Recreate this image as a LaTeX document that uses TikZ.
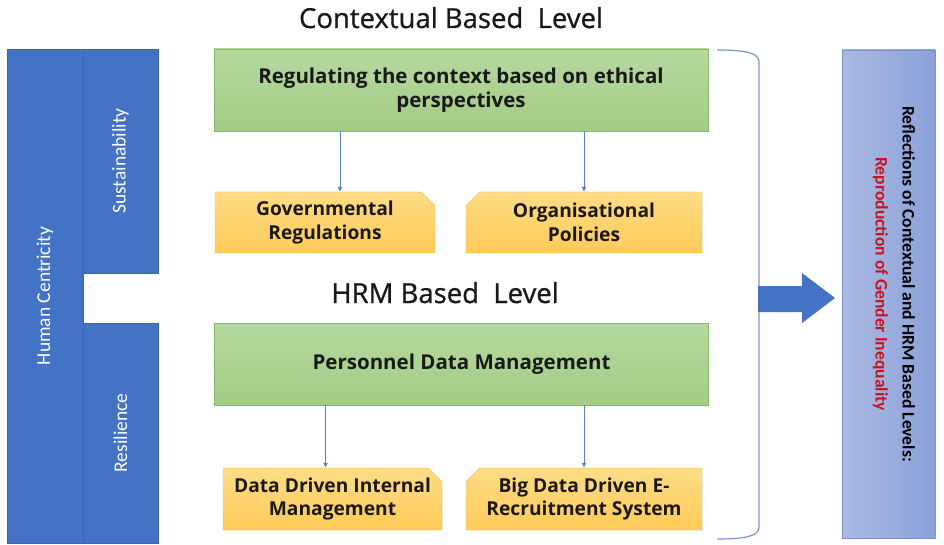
\documentclass[tikz,border=0pt]{standalone}
\usepackage{fontspec}
\setmainfont{Open Sans}
\newfontfamily\carlito{Carlito}
\newfontfamily\titlefont[FakeBold=0.9]{Open Sans}
\usetikzlibrary{arrows.meta,shapes.misc}

\definecolor{hcblue}{HTML}{4472C4}
\definecolor{hcedge}{HTML}{3A64AF}
\definecolor{lvgreen}{HTML}{B6D9A0}
\definecolor{lvgreendk}{HTML}{A3CC85}
\definecolor{lvedge}{HTML}{86B866}
\definecolor{subyel}{HTML}{FFDC86}
\definecolor{subyeldk}{HTML}{FFCB58}
\definecolor{subedge}{HTML}{E2B454}
\definecolor{refl}{HTML}{ABBAE2}
\definecolor{refldk}{HTML}{8BA1D9}
\definecolor{refledge}{HTML}{7D93CD}
\definecolor{linkblue}{HTML}{5B7FC7}
\definecolor{gendred}{HTML}{C8141E}

\tikzset{
  pillar/.style={draw=hcedge, fill=hcblue, text=white, rotate=90,
    inner sep=0pt, font=\carlito\fontsize{19.5}{22}\selectfont},
  levelbox/.style={draw=lvedge, top color=lvgreen, bottom color=lvgreendk,
    minimum width=494pt, minimum height=82pt, align=center,
    font=\bfseries\fontsize{20.5}{24}\selectfont, text=black!90},
  subbox/.style={chamfered rectangle, chamfered rectangle xsep=10pt,
    draw=subedge, top color=subyel, bottom color=subyeldk,
    minimum height=61pt, inner sep=0pt, align=center,
    font=\bfseries\fontsize{19.2}{23.5}\selectfont, text=black!90},
  leveltitle/.style={anchor=base, font=\titlefont\fontsize{27.5}{30}\selectfont, text=black!90},
  link/.style={draw=linkblue, line width=0.8pt, -{Latex[length=5pt,width=5pt]}}
}

\begin{document}
\begin{tikzpicture}[x=1pt,y=-1pt]
\useasboundingbox (0,0) rectangle (944,545);

\node[pillar, minimum width=494pt, minimum height=76pt] (hc) at (45,296) {Human Centricity};
\node[pillar, minimum width=224pt, minimum height=75pt] (sus) at (120.5,161) {Sustainability};
\node[pillar, minimum width=220pt, minimum height=75pt] (res) at (120.5,433) {Resilience};

\node[leveltitle] (ctxtitle) at (451,28) {Contextual Based \ Level};
\node[levelbox] (ctx) at (461,90) {Regulating the context based on ethical\\perspectives};
\node[subbox, chamfered rectangle corners=north east, minimum width=220pt] (gov) at (325,222.5) {Governmental\\Regulations};
\node[subbox, chamfered rectangle corners=north west, minimum width=236pt] (org) at (584,222.5) {Organisational\\Policies};
\draw[link] ([xshift=15pt]gov.north |- ctx.south) -- ([xshift=15pt]gov.north);
\draw[link] (org.north |- ctx.south) -- (org.north);

\node[leveltitle] (hrmtitle) at (445,303) {HRM Based \ Level};
\node[levelbox] (hrm) at (461.5,364) {Personnel Data Management};
\node[subbox, chamfered rectangle corners=north east, minimum width=219pt, minimum height=62pt] (ddim) at (332.5,499) {Data Driven Internal\\Management};
\node[subbox, chamfered rectangle corners=north west, minimum width=236pt, minimum height=62pt] (bdre) at (584,499) {Big Data Driven E-\\Recruitment System};
\draw[link] ([xshift=-7pt]ddim.north |- hrm.south) -- ([xshift=-7pt]ddim.north);
\draw[link] (bdre.north |- hrm.south) -- (bdre.north);

\draw[refledge, line width=1.2pt]
  (717,50) .. controls (746,50) and (759,53) .. (759,62) -- (759,527)
  .. controls (759,536) and (746,539) .. (717,539);
\fill[hcblue] (758,286) -- (802,286) -- (802,273) -- (835,298) -- (802,323)
  -- (802,312) -- (758,312) -- cycle;

\node[draw=refledge, left color=refl, right color=refldk, rotate=-90,
  minimum width=488pt, minimum height=93pt] (refl) at (888.5,294) {};
\node[rotate=-90, align=center, font=\carlito\bfseries\fontsize{17.6}{27}\selectfont]
  (refltext) at (894,284)
  {Reflections of Contextual and HRM Based Levels:\\
   \textcolor{gendred}{Reproduction of Gender Inequality}};
\end{tikzpicture}
\end{document}
